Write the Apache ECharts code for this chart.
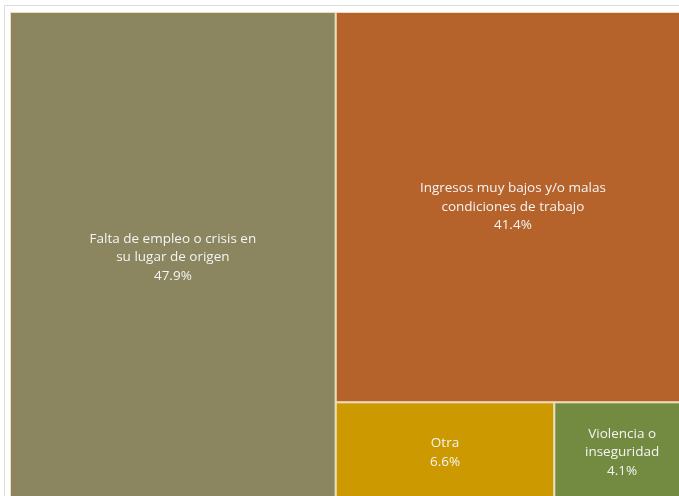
<!DOCTYPE html>
<html><head><meta charset="utf-8">
<script src="https://cdn.jsdelivr.net/npm/echarts@6/dist/echarts.min.js"></script>
<style>html,body{margin:0;padding:0;background:#fff}#c{width:679px;height:496px}</style>
</head><body><div id="c"></div>
<script>
const categories = ["Falta de empleo o crisis en\nsu lugar de origen", "Ingresos muy bajos y/o malas\ncondiciones de trabajo", "Otra", "Violencia o\ninseguridad"];
const values = [47.9, 41.4, 6.6, 4.1];
const colors = ["#8b8660", "#b5632a", "#cc9900", "#728b40"];

const chart = echarts.init(document.getElementById('c'), null, {renderer:'canvas'});
chart.setOption({
  animation:false,
  graphic:[{type:'rect', shape:{x:4.5,y:5.5,width:700,height:520}, style:{fill:'none', stroke:'#dcdcdc', lineWidth:1}, z:-1}],
  series:[{
    type:'treemap',
    left:10, top:12, width:680, height:491,
    roam:false, nodeClick:false,
    squareRatio:1,
    breadcrumb:{show:false},
    levels:[{itemStyle:{borderColor:'#efdcb8', borderWidth:1, gapWidth:2}}],
    label:{show:true, position:'inside', align:'center', verticalAlign:'middle', overflow:'none',
      fontFamily:'Open Sans', fontSize:13.5, color:'#f4f4f4', lineHeight:18.5,
      formatter: p => p.name + '\n' + p.value.toFixed(1) + '%'},
    upperLabel:{show:false},
    data: categories.map((n,i)=>({name:n, value:values[i], itemStyle:{color:colors[i]}}))
  }]
});
</script></body></html>
